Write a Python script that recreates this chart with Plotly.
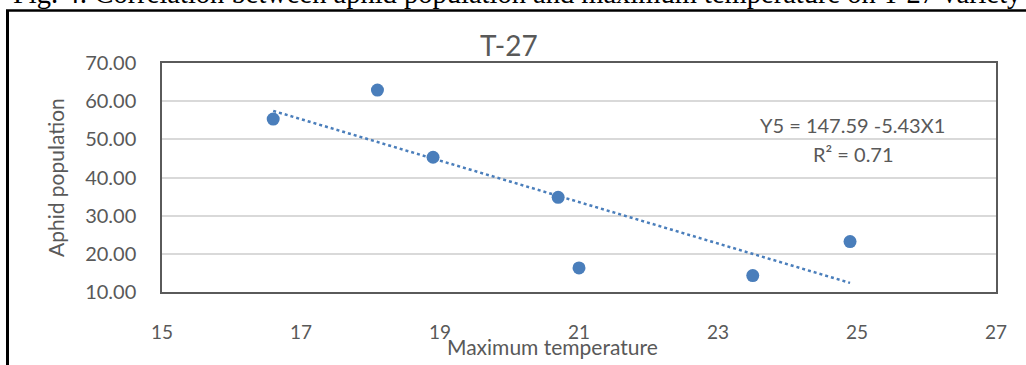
import plotly.graph_objects as go
import numpy as np

W, H = 1026, 365

# Data
max_temp = [16.6, 18.1, 18.9, 20.7, 21.0, 23.5, 24.9]
aphid_pop = [55.3, 62.9, 45.3, 34.8, 16.3, 14.3, 23.2]
intercept = 147.59
slope = -5.43
r_squared = 0.71
x_ticks = [15, 17, 19, 21, 23, 25, 27]
y_ticks = [10, 20, 30, 40, 50, 60, 70]

title = "T-27"
caption = "Fig. 4: Correlation between aphid population and maximum temperature on T-27 variety"
x_title = "Maximum temperature"
y_title = "Aphid population"

def px(x):
    return x / W

def py(y):
    return 1 - y / H

trend_x = np.array([min(max_temp), max(max_temp)])
trend_y = intercept + slope * trend_x

blue = "#4A7EBB"
grey = "#595959"
font = "Lato"

fig = go.Figure()
fig.add_trace(go.Scatter(x=trend_x, y=trend_y, mode="lines",
                         line=dict(color=blue, width=2.5, dash="dot"),
                         hoverinfo="skip", showlegend=False))
fig.add_trace(go.Scatter(x=max_temp, y=aphid_pop, mode="markers",
                         marker=dict(color=blue, size=13),
                         showlegend=False))

fig.update_layout(
    width=W, height=H,
    margin=dict(l=0, r=0, t=0, b=0, autoexpand=False),
    paper_bgcolor="white", plot_bgcolor="white",
    font=dict(family=font, color=grey),
    xaxis=dict(domain=[px(162), px(996)], range=[15, 27], tickvals=x_ticks,
               ticktext=[str(v) for v in x_ticks], showgrid=False, zeroline=False,
               showline=True, linecolor="#5a5a5a", linewidth=1.5, mirror=True,
               ticks="", tickfont=dict(size=19, color=grey, family=font),
               ticklabelstandoff=22),
    yaxis=dict(domain=[py(292), py(63)], range=[10, 70], tickvals=y_ticks,
               tickformat=".2f", showgrid=True, gridcolor="#D9D9D9", gridwidth=1.5,
               zeroline=False, showline=True, linecolor="#5a5a5a", linewidth=1.5,
               mirror=True, ticks="", tickfont=dict(size=20, color=grey, family=font),
               ticklabelstandoff=20),
)

annotations = [
    dict(text=title, x=px(509), y=py(45), font=dict(size=28, color=grey, family=font)),
    dict(text=x_title, x=px(552), y=py(346), font=dict(size=21, color=grey, family=font)),
    dict(text=y_title, x=px(55), y=py(178), textangle=-90,
         font=dict(size=21, color=grey, family=font)),
    dict(text=f"Y5 = {intercept} {slope}X1", x=px(852), y=py(125),
         font=dict(size=20, color=grey, family=font)),
    dict(text=f"R² = {r_squared}", x=px(853), y=py(154),
         font=dict(size=20, color=grey, family=font)),
    dict(text=caption, x=px(517), y=py(11), yanchor="bottom", xanchor="center",
         font=dict(size=28.5, color="black", family="Liberation Serif")),
]
for a in annotations:
    a.setdefault("xanchor", "center")
    a.setdefault("yanchor", "middle")
    fig.add_annotation(xref="paper", yref="paper", showarrow=False, **a)

# outer frame (left and top)
fig.add_shape(type="line", xref="paper", yref="paper", x0=px(7.5), x1=px(7.5),
              y0=py(10), y1=py(366), line=dict(color="black", width=3))
fig.add_shape(type="line", xref="paper", yref="paper", x0=px(6), x1=px(1026),
              y0=py(10.5), y1=py(10.5), line=dict(color="black", width=2.5))

fig.write_html("out.html", config={"displayModeBar": False},
               post_script="document.body.style.margin='0';document.body.style.overflow='hidden';")
